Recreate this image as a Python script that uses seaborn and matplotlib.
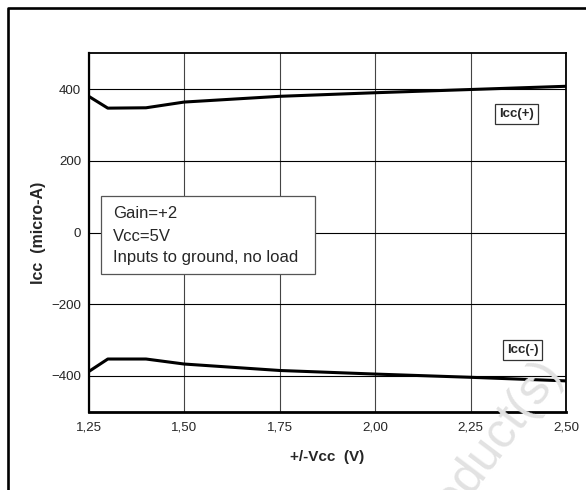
import matplotlib
matplotlib.use("Agg")
import matplotlib.pyplot as plt
import seaborn as sns
import pandas as pd
from matplotlib.lines import Line2D
from matplotlib.patches import Rectangle
from matplotlib.ticker import FuncFormatter

# data
vcc = [1.25, 1.30, 1.40, 1.50, 1.75, 2.00, 2.25, 2.50]
icc_pos = [380, 347, 348, 364, 380, 390, 399, 408]
icc_neg = [-388, -353, -353, -367, -385, -395, -404, -414]
x_ticks = [1.25, 1.50, 1.75, 2.00, 2.25, 2.50]
y_ticks = [-400, -200, 0, 200, 400]
note_lines = ["Gain=+2", "Vcc=5V", "Inputs to ground, no load"]

df = pd.DataFrame({"vcc": vcc + vcc,
                   "icc": icc_pos + icc_neg,
                   "series": ["Icc(+)"] * len(vcc) + ["Icc(-)"] * len(vcc)})

sns.set_style("white")
plt.rcParams["font.family"] = ["Liberation Sans", "DejaVu Sans"]

fig = plt.figure(figsize=(5.86, 4.9), dpi=100)
ax = fig.add_axes([0.1514, 0.1598, 0.8145, 0.7314])

sns.lineplot(data=df, x="vcc", y="icc", units="series", estimator=None,
             color="black", linewidth=2.2, legend=False, ax=ax, zorder=4)

ax.set_xlim(1.25, 2.50)
ax.set_ylim(-500, 500)
ax.set_xticks(x_ticks)
ax.set_yticks(y_ticks)
ax.xaxis.set_major_formatter(FuncFormatter(lambda v, p: f"{v:.2f}".replace(".", ",")))
ax.tick_params(direction="in", length=5, width=1.2, labelsize=9.6, color="black")
ax.tick_params(axis="x", pad=7)
ax.tick_params(axis="y", pad=5.5)

ax.grid(axis="x", color="#444444", linewidth=0.8)
ax.grid(axis="y", color="black", linewidth=0.8)
for s in ax.spines.values():
    s.set_color("black")
    s.set_linewidth(1.3)
ax.spines["left"].set_linewidth(1.6)
ax.spines["bottom"].set_linewidth(2.0)

ax.set_xlabel("+/-Vcc  (V)", fontsize=11, fontweight="bold", labelpad=12)
ax.set_ylabel("Icc  (micro-A)", fontsize=11.5, fontweight="bold", labelpad=4)

# info box
ax.add_patch(Rectangle((0.026, 0.384), 0.448, 0.219, transform=ax.transAxes,
                       facecolor="white", edgecolor="#555555", linewidth=0.9, zorder=5))
for txt, yy in zip(note_lines, [0.552, 0.490, 0.431]):
    ax.text(0.051, yy, txt, transform=ax.transAxes, fontsize=12,
            va="center", ha="left", zorder=6)

box = dict(boxstyle="square,pad=0.3", facecolor="white", edgecolor="#333333", linewidth=0.9)
ax.text(0.896, 0.830, "Icc(+)", transform=ax.transAxes, fontsize=9.5, fontweight="bold",
        ha="center", va="center", bbox=box, zorder=6)
ax.text(0.909, 0.172, "Icc(-)", transform=ax.transAxes, fontsize=9.5, fontweight="bold",
        ha="center", va="center", bbox=box, zorder=6)

# outer page frame
fig.add_artist(Line2D([0.01365, 0.01365, 1.2], [-0.2, 0.9837, 0.9837],
                      transform=fig.transFigure, color="black", linewidth=1.9))

# faint watermark
fig.text(0.505, -0.49, "Obsolete Product(s)", transform=fig.transFigure,
         fontsize=36, color="#e2e2e2", rotation=53, rotation_mode="anchor",
         ha="left", va="baseline", zorder=0)

fig.savefig("out.png", dpi=100)
